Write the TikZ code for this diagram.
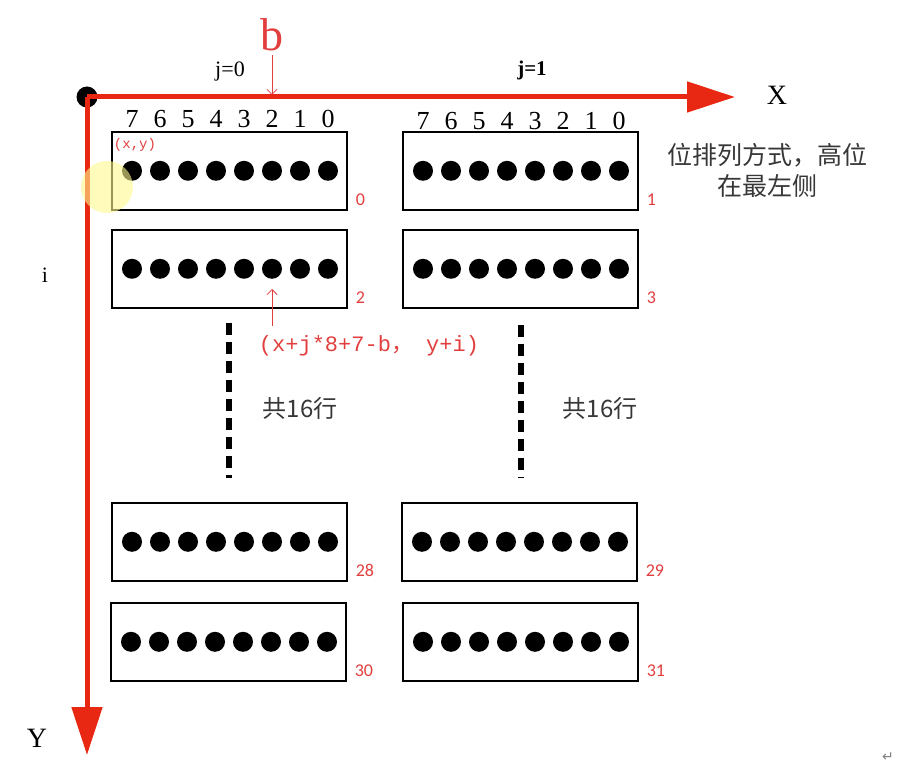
\documentclass[tikz,border=0pt]{standalone}
\usepackage{fontspec}
\setmainfont{Liberation Serif}
\setsansfont{Carlito}
\setmonofont{Liberation Mono}
\newfontfamily\cjk{Noto Sans CJK SC}
\newfontfamily\symfont{DejaVu Sans}
\usetikzlibrary{arrows.meta,positioning,calc}

\definecolor{axisred}{RGB}{232,40,18}
\definecolor{labelred}{RGB}{226,62,62}
\definecolor{notegray}{RGB}{55,55,55}

\tikzset{
  axis/.style={line width=5pt, axisred, -{Triangle[length=48pt,width=30pt]}},
  pointer/.style={line width=0.8pt, labelred, -{Straight Barb[length=5pt,width=10pt]}},
  bytebox/.style={draw, line width=1.6pt, minimum width=235pt, minimum height=78pt, inner sep=0pt},
  bitdot/.style={circle, fill=black, minimum size=20pt, inner sep=0pt},
  bitnum/.style={font=\fontsize{26}{28}\selectfont, inner sep=0pt},
  rowlabel/.style={labelred, font=\sffamily\fontsize{18}{19}\selectfont, inner sep=0pt},
  dotline/.style={line width=6pt, dash pattern=on 12pt off 7pt},
  note/.style={notegray, font=\cjk\fontsize{24}{31}\selectfont, align=center}
}

\begin{document}
\begin{tikzpicture}[x=1pt,y=-1pt]

% Canvas
\useasboundingbox (0,0) rectangle (922,770);

% Origin and axes
\node[circle, fill=black, minimum size=21pt, inner sep=0pt] (origin) at (87,97) {};
\coordinate (xend) at (735,97);
\coordinate (yend) at (87,755);
\draw[axis] (origin.center) -- (xend);
\draw[axis] (origin.center) -- (yend);
\node[font=\fontsize{28}{30}\selectfont] (xlab) at (777,95) {X};
\node[font=\fontsize{28}{30}\selectfont] (ylab) at (37,738) {Y};
\node[font=\fontsize{22}{24}\selectfont] (ilab) at (45,275) {i};

% Column labels
\node[font=\fontsize{22}{24}\selectfont] (j0) at (230,72) {j=0};
\node[font=\bfseries\fontsize{21}{23}\selectfont] (j1) at (532,70) {j=1};

% Bit offset b
\node[labelred, font=\fontsize{46}{48}\selectfont] (b) at (272,35) {b};
\coordinate (bpt) at (272,95);
\draw[pointer] (b.south) -- (bpt);

% Byte boxes with their dots and row numbers
\foreach \n/\x/\y in {0/111/131, 1/402/131, 2/111/229, 3/402/229,
                      28/111/502, 29/401/502, 30/110/602, 31/402/602} {
  \node[bytebox, anchor=north west] (box\n) at (\x,\y) {};
  \foreach \k in {0,...,7}
    \node[bitdot] (box\n-d\k) at ($(box\n.west)+({21+28*\k},0)$) {};
  \node[rowlabel, anchor=south west] (lab\n) at ($(box\n.south east)+(8,-5)$) {\n};
}

% Bit numbers above the first row
\foreach \k in {0,...,7} {
  \pgfmathtruncatemacro{\bit}{7-\k}
  \node[bitnum] (bitA\k) at ($(box0-d\k)+(0,-52)$) {\bit};
  \node[bitnum] (bitB\k) at ($(box1-d\k)+(0,-50)$) {\bit};
}

% Start point of the screen
\node[labelred, fill=white, inner sep=1pt, font=\ttfamily\fontsize{14}{15}\selectfont] (xy) at (135,145) {(x,y)};
\fill[yellow!45, opacity=0.6] (107,187) circle (26pt);

% Pixel formula
\node[labelred, font=\ttfamily\fontsize{22}{24}\selectfont] (formula) at (369,346) {(x+j*8+7-b{\cjk，}\ y+i)};
\draw[pointer, shorten <=6pt, shorten >=10pt] (formula.north -| box2-d5) -- (box2-d5.south);

% Rows left out
\draw[dotline] (229,323) -- (229,478);
\draw[dotline] (521,325) -- (521,478);
\node[note] (rowsA) at (300,408) {共16行};
\node[note] (rowsB) at (600,408) {共16行};

% Bit order note
\node[note, font=\cjk\fontsize{25}{31}\selectfont] (order) at (767,170) {位排列方式，高位\\在最左侧};

% Paragraph mark
\node[gray, font=\symfont\fontsize{14}{15}\selectfont] (para) at (888,757) {↵};

\end{tikzpicture}
\end{document}
